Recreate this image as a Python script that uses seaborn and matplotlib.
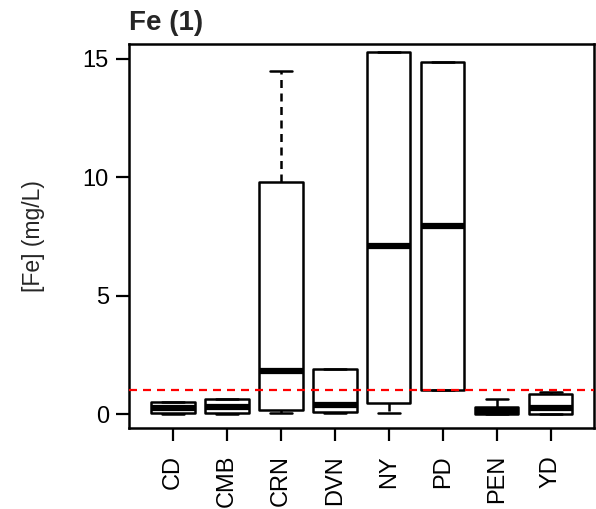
import numpy as np
import pandas as pd
import matplotlib
matplotlib.use("Agg")
import matplotlib.pyplot as plt
import seaborn as sns

# ---- data (five-number summaries, mg/L) ----
sites = ["CD", "CMB", "CRN", "DVN", "NY", "PD", "PEN", "YD"]
whisker_low = [0.00, 0.00, 0.03, 0.03, 0.05, 1.00, 0.00, 0.00]
q1 = [0.03, 0.03, 0.17, 0.10, 0.45, 1.00, 0.02, 0.02]
median = [0.25, 0.30, 1.82, 0.38, 7.10, 7.95, 0.14, 0.25]
q3 = [0.50, 0.65, 9.81, 1.89, 15.28, 14.89, 0.31, 0.83]
whisker_high = [0.50, 0.65, 14.50, 1.89, 15.28, 14.89, 0.62, 0.94]
guideline = 1.0
yticks = [0, 5, 10, 15]
title = "Fe (1)"
ylabel = "[Fe] (mg/L)"

rows = []
for i, s in enumerate(sites):
    for v in (whisker_low[i], q1[i], median[i], q3[i], whisker_high[i]):
        rows.append({"site": s, "value": v})
df = pd.DataFrame(rows)

sns.set_style("ticks")
plt.rcParams["font.family"] = ["Liberation Sans", "DejaVu Sans"]

fig = plt.figure(figsize=(5.96, 5.09), dpi=100)
ax = fig.add_axes([129 / 596, 1 - 428 / 509, 465 / 596, 384 / 509])

sns.boxplot(
    data=df, x="site", y="value", order=sites, ax=ax,
    color="white", linecolor="black", linewidth=1.8, width=0.8,
    whis=(0, 100), showfliers=False,
    whiskerprops=dict(linestyle=(0, (3.2, 2.2))),
    medianprops=dict(linewidth=4.5, solid_capstyle="butt"),
    boxprops=dict(joinstyle="round"),
)

ax.axhline(guideline, color="red", linewidth=1.6, linestyle=(0, (3.6, 2.7)), zorder=5)

ax.set_xlim(-0.815, 7.80)
ax.set_ylim(-0.59, 15.63)
ax.set_yticks(yticks)
ax.set_xlabel("")
ax.set_ylabel(ylabel, fontsize=16.5)
ax.yaxis.set_label_coords(-0.18, 0.5)
ax.set_title(title, loc="left", fontsize=20, fontweight="bold", pad=10)

for sp in ax.spines.values():
    sp.set_visible(True)
    sp.set_linewidth(1.8)
    sp.set_color("black")

ax.tick_params(axis="both", length=9.5, width=1.6, labelsize=17, colors="black")
ax.tick_params(axis="y", pad=5)
ax.tick_params(axis="x", pad=10, labelrotation=90)

fig.savefig("out.png", dpi=100)
